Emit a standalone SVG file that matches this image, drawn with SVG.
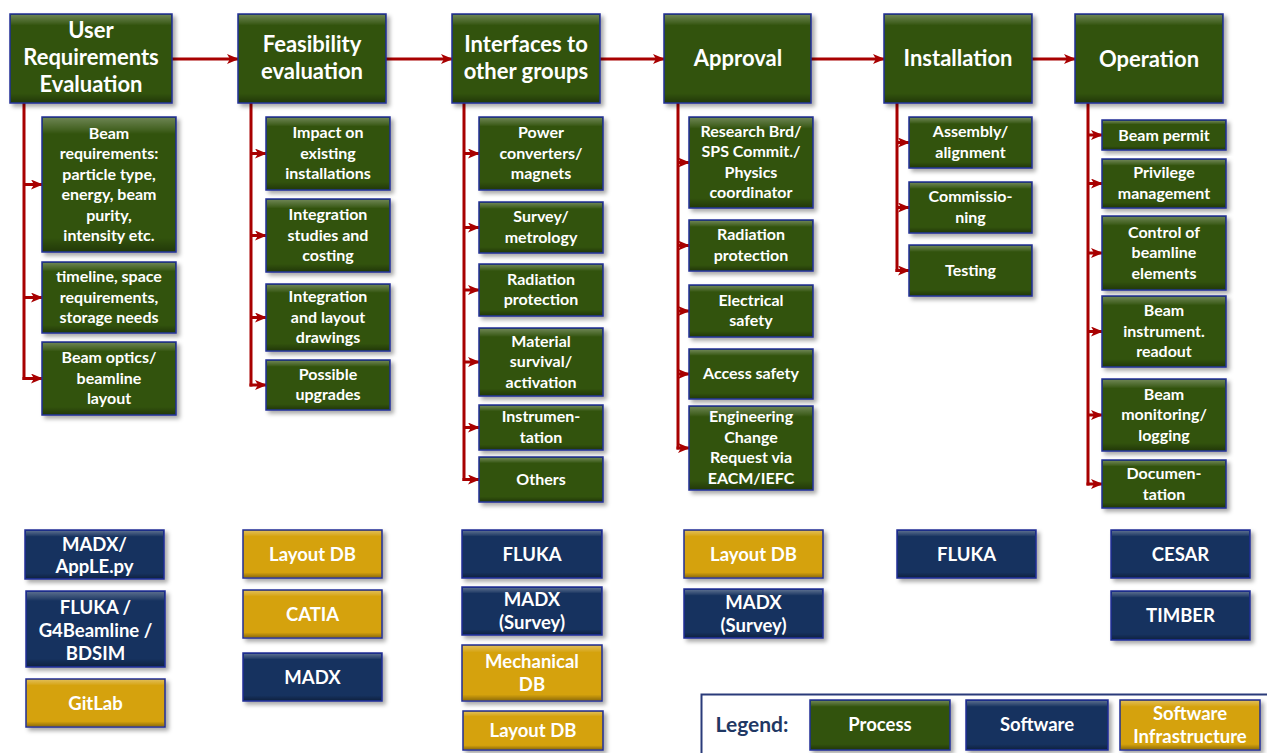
<svg xmlns="http://www.w3.org/2000/svg" width="1267" height="753" viewBox="0 0 1267 753">
<defs>
<style>
.n rect.m{stroke:#1f2f96;stroke-width:1.5;filter:url(#sh)}
.g rect.m{fill:#30520e}
.b rect.m{fill:#12305f}
.y rect.m{fill:#d5a209}
rect.hl{fill:url(#bev);stroke:none}
text{font-family:Lato,"Liberation Sans",sans-serif;font-weight:bold;fill:#ffffff;text-anchor:middle}
.h text{font-size:22px}
.s text{font-size:16px}
.t text{font-size:18.5px}
.c line{stroke:#a80000;stroke-width:3;fill:none}
.ah{fill:#a80000}
</style>
<linearGradient id="bev" x1="0" y1="0" x2="0" y2="1">
<stop offset="0" stop-color="#ffffff" stop-opacity="0.28"/>
<stop offset="0.09" stop-color="#ffffff" stop-opacity="0.08"/>
<stop offset="0.12" stop-color="#ffffff" stop-opacity="0"/>
<stop offset="0.9" stop-color="#000000" stop-opacity="0"/>
<stop offset="1" stop-color="#000000" stop-opacity="0.3"/>
</linearGradient>
<filter id="sh" x="-10%" y="-10%" width="130%" height="130%">
<feDropShadow dx="3" dy="3" stdDeviation="2.2" flood-color="#000" flood-opacity="0.35"/>
</filter>
<marker id="a" markerWidth="12" markerHeight="10" refX="11" refY="5" orient="auto" markerUnits="userSpaceOnUse">
<path class="ah" d="M0,0 L12,5 L0,10 L3,5 Z"/>
</marker>
</defs>
<rect width="1267" height="753" fill="#ffffff"/>

<g id="connectors" class="c">
<line x1="172" y1="59" x2="238" y2="59" marker-end="url(#a)"/>
<line x1="386" y1="59" x2="452" y2="59" marker-end="url(#a)"/>
<line x1="600" y1="59" x2="664" y2="59" marker-end="url(#a)"/>
<line x1="811" y1="59" x2="884" y2="59" marker-end="url(#a)"/>
<line x1="1032" y1="59" x2="1075" y2="59" marker-end="url(#a)"/>

<line x1="24" y1="103" x2="24" y2="380"/>
<line x1="24" y1="184.5" x2="42" y2="184.5" marker-end="url(#a)"/>
<line x1="24" y1="297.5" x2="42" y2="297.5" marker-end="url(#a)"/>
<line x1="22.5" y1="378.5" x2="42" y2="378.5" marker-end="url(#a)"/>

<line x1="251" y1="103" x2="251" y2="386.5"/>
<line x1="251" y1="153.5" x2="266" y2="153.5" marker-end="url(#a)"/>
<line x1="251" y1="235.5" x2="266" y2="235.5" marker-end="url(#a)"/>
<line x1="251" y1="317.5" x2="266" y2="317.5" marker-end="url(#a)"/>
<line x1="249.5" y1="385" x2="266" y2="385" marker-end="url(#a)"/>

<line x1="464" y1="103" x2="464" y2="481"/>
<line x1="464" y1="153.5" x2="479" y2="153.5" marker-end="url(#a)"/>
<line x1="464" y1="227.5" x2="479" y2="227.5" marker-end="url(#a)"/>
<line x1="464" y1="290" x2="479" y2="290" marker-end="url(#a)"/>
<line x1="464" y1="362" x2="479" y2="362" marker-end="url(#a)"/>
<line x1="464" y1="427.5" x2="479" y2="427.5" marker-end="url(#a)"/>
<line x1="462.5" y1="479.5" x2="479" y2="479.5" marker-end="url(#a)"/>

<line x1="678" y1="103" x2="678" y2="449.5"/>
<line x1="678" y1="162.5" x2="689" y2="162.5" marker-end="url(#a)"/>
<line x1="678" y1="245.5" x2="689" y2="245.5" marker-end="url(#a)"/>
<line x1="678" y1="311" x2="689" y2="311" marker-end="url(#a)"/>
<line x1="678" y1="374" x2="689" y2="374" marker-end="url(#a)"/>
<line x1="676.5" y1="448" x2="689" y2="448" marker-end="url(#a)"/>

<line x1="897" y1="103" x2="897" y2="272"/>
<line x1="897" y1="142.5" x2="909" y2="142.5" marker-end="url(#a)"/>
<line x1="897" y1="207.5" x2="909" y2="207.5" marker-end="url(#a)"/>
<line x1="895.5" y1="270.5" x2="909" y2="270.5" marker-end="url(#a)"/>

<line x1="1088" y1="103" x2="1088" y2="485.5"/>
<line x1="1088" y1="135" x2="1102" y2="135" marker-end="url(#a)"/>
<line x1="1088" y1="183.5" x2="1102" y2="183.5" marker-end="url(#a)"/>
<line x1="1088" y1="253" x2="1102" y2="253" marker-end="url(#a)"/>
<line x1="1088" y1="331.5" x2="1102" y2="331.5" marker-end="url(#a)"/>
<line x1="1088" y1="415" x2="1102" y2="415" marker-end="url(#a)"/>
<line x1="1086.5" y1="484" x2="1102" y2="484" marker-end="url(#a)"/>
</g>

<!-- Headers -->
<g id="h1" class="n g h"><rect class="m" x="10" y="14" width="162" height="89"/><rect class="hl" x="11" y="15" width="160" height="87"/><text x="91" y="38">User</text><text x="91" y="65">Requirements</text><text x="91" y="92">Evaluation</text></g>
<g id="h2" class="n g h"><rect class="m" x="238" y="14" width="148" height="89"/><rect class="hl" x="239" y="15" width="146" height="87"/><text x="312" y="52">Feasibility</text><text x="312" y="79">evaluation</text></g>
<g id="h3" class="n g h"><rect class="m" x="452" y="14" width="148" height="89"/><rect class="hl" x="453" y="15" width="146" height="87"/><text x="526" y="52">Interfaces to</text><text x="526" y="79">other groups</text></g>
<g id="h4" class="n g h"><rect class="m" x="664" y="14" width="147" height="89"/><rect class="hl" x="665" y="15" width="145" height="87"/><text x="738" y="66">Approval</text></g>
<g id="h5" class="n g h"><rect class="m" x="884" y="14" width="148" height="89"/><rect class="hl" x="885" y="15" width="146" height="87"/><text x="958" y="66">Installation</text></g>
<g id="h6" class="n g h"><rect class="m" x="1075" y="14" width="148" height="89"/><rect class="hl" x="1076" y="15" width="146" height="87"/><text x="1149" y="67">Operation</text></g>

<!-- Column 1 -->
<g id="c1a" class="n g s"><rect class="m" x="42" y="117" width="134" height="135"/><rect class="hl" x="43" y="118" width="132" height="133"/><text x="109" y="138.5">Beam</text><text x="109" y="159">requirements:</text><text x="109" y="179.5">particle type,</text><text x="109" y="200">energy, beam</text><text x="109" y="220.5">purity,</text><text x="109" y="241">intensity etc.</text></g>
<g id="c1b" class="n g s"><rect class="m" x="42" y="262" width="134" height="71"/><rect class="hl" x="43" y="263" width="132" height="69"/><text x="109" y="282">timeline, space</text><text x="109" y="302.5">requirements,</text><text x="109" y="323">storage needs</text></g>
<g id="c1c" class="n g s"><rect class="m" x="42" y="342" width="134" height="73"/><rect class="hl" x="43" y="343" width="132" height="71"/><text x="109" y="363">Beam optics/</text><text x="109" y="383.5">beamline</text><text x="109" y="404">layout</text></g>

<!-- Column 2 -->
<g id="c2a" class="n g s"><rect class="m" x="266" y="117" width="124" height="73"/><rect class="hl" x="267" y="118" width="122" height="71"/><text x="328" y="138">Impact on</text><text x="328" y="158.5">existing</text><text x="328" y="179">installations</text></g>
<g id="c2b" class="n g s"><rect class="m" x="266" y="199" width="124" height="73"/><rect class="hl" x="267" y="200" width="122" height="71"/><text x="328" y="220">Integration</text><text x="328" y="240.5">studies and</text><text x="328" y="261">costing</text></g>
<g id="c2c" class="n g s"><rect class="m" x="266" y="284" width="124" height="67"/><rect class="hl" x="267" y="285" width="122" height="65"/><text x="328" y="302">Integration</text><text x="328" y="322.5">and layout</text><text x="328" y="343">drawings</text></g>
<g id="c2d" class="n g s"><rect class="m" x="266" y="360" width="124" height="50"/><rect class="hl" x="267" y="361" width="122" height="48"/><text x="328" y="379.5">Possible</text><text x="328" y="400">upgrades</text></g>

<!-- Column 3 -->
<g id="c3a" class="n g s"><rect class="m" x="479" y="117" width="124" height="73"/><rect class="hl" x="480" y="118" width="122" height="71"/><text x="541" y="138">Power</text><text x="541" y="158.5">converters/</text><text x="541" y="179">magnets</text></g>
<g id="c3b" class="n g s"><rect class="m" x="479" y="202" width="124" height="51"/><rect class="hl" x="480" y="203" width="122" height="49"/><text x="541" y="222">Survey/</text><text x="541" y="242.5">metrology</text></g>
<g id="c3c" class="n g s"><rect class="m" x="479" y="264" width="124" height="52"/><rect class="hl" x="480" y="265" width="122" height="50"/><text x="541" y="284.5">Radiation</text><text x="541" y="305">protection</text></g>
<g id="c3d" class="n g s"><rect class="m" x="479" y="328" width="124" height="68"/><rect class="hl" x="480" y="329" width="122" height="66"/><text x="541" y="346.5">Material</text><text x="541" y="367">survival/</text><text x="541" y="387.5">activation</text></g>
<g id="c3e" class="n g s"><rect class="m" x="479" y="405" width="124" height="45"/><rect class="hl" x="480" y="406" width="122" height="43"/><text x="541" y="422">Instrumen-</text><text x="541" y="442.5">tation</text></g>
<g id="c3f" class="n g s"><rect class="m" x="479" y="457" width="124" height="45"/><rect class="hl" x="480" y="458" width="122" height="43"/><text x="541" y="484.5">Others</text></g>

<!-- Column 4 -->
<g id="c4a" class="n g s"><rect class="m" x="689" y="117" width="124" height="91"/><rect class="hl" x="690" y="118" width="122" height="89"/><text x="751" y="136.5">Research Brd/</text><text x="751" y="157">SPS Commit./</text><text x="751" y="177.5">Physics</text><text x="751" y="198">coordinator</text></g>
<g id="c4b" class="n g s"><rect class="m" x="689" y="220" width="124" height="51"/><rect class="hl" x="690" y="221" width="122" height="49"/><text x="751" y="240">Radiation</text><text x="751" y="260.5">protection</text></g>
<g id="c4c" class="n g s"><rect class="m" x="689" y="285" width="124" height="52"/><rect class="hl" x="690" y="286" width="122" height="50"/><text x="751" y="305.5">Electrical</text><text x="751" y="326">safety</text></g>
<g id="c4d" class="n g s"><rect class="m" x="689" y="349" width="124" height="50"/><rect class="hl" x="690" y="350" width="122" height="48"/><text x="751" y="379">Access safety</text></g>
<g id="c4e" class="n g s"><rect class="m" x="689" y="406" width="124" height="84"/><rect class="hl" x="690" y="407" width="122" height="82"/><text x="751" y="422">Engineering</text><text x="751" y="442.5">Change</text><text x="751" y="463">Request via</text><text x="751" y="483.5">EACM/IEFC</text></g>

<!-- Column 5 -->
<g id="c5a" class="n g s"><rect class="m" x="909" y="117" width="123" height="51"/><rect class="hl" x="910" y="118" width="121" height="49"/><text x="970.5" y="137">Assembly/</text><text x="970.5" y="157.5">alignment</text></g>
<g id="c5b" class="n g s"><rect class="m" x="909" y="182" width="123" height="51"/><rect class="hl" x="910" y="183" width="121" height="49"/><text x="970.5" y="202">Commissio-</text><text x="970.5" y="222.5">ning</text></g>
<g id="c5c" class="n g s"><rect class="m" x="909" y="245" width="123" height="51"/><rect class="hl" x="910" y="246" width="121" height="49"/><text x="970.5" y="275.5">Testing</text></g>

<!-- Column 6 -->
<g id="c6a" class="n g s"><rect class="m" x="1102" y="120" width="124" height="30"/><rect class="hl" x="1103" y="121" width="122" height="28"/><text x="1164" y="140.5">Beam permit</text></g>
<g id="c6b" class="n g s"><rect class="m" x="1102" y="159" width="124" height="49"/><rect class="hl" x="1103" y="160" width="122" height="47"/><text x="1164" y="178">Privilege</text><text x="1164" y="198.5">management</text></g>
<g id="c6c" class="n g s"><rect class="m" x="1102" y="216" width="124" height="74"/><rect class="hl" x="1103" y="217" width="122" height="72"/><text x="1164" y="237.5">Control of</text><text x="1164" y="258">beamline</text><text x="1164" y="278.5">elements</text></g>
<g id="c6d" class="n g s"><rect class="m" x="1102" y="296" width="124" height="71"/><rect class="hl" x="1103" y="297" width="122" height="69"/><text x="1164" y="316">Beam</text><text x="1164" y="336.5">instrument.</text><text x="1164" y="357">readout</text></g>
<g id="c6e" class="n g s"><rect class="m" x="1102" y="379" width="124" height="72"/><rect class="hl" x="1103" y="380" width="122" height="70"/><text x="1164" y="399.5">Beam</text><text x="1164" y="420">monitoring/</text><text x="1164" y="440.5">logging</text></g>
<g id="c6f" class="n g s"><rect class="m" x="1102" y="460" width="124" height="48"/><rect class="hl" x="1103" y="461" width="122" height="46"/><text x="1164" y="479">Documen-</text><text x="1164" y="499.5">tation</text></g>

<!-- Tools -->
<g id="t1a" class="n b t"><rect class="m" x="25" y="530" width="139" height="49"/><rect class="hl" x="26" y="531" width="137" height="47"/><text x="94.5" y="551">MADX/</text><text x="94.5" y="573">AppLE.py</text></g>
<g id="t1b" class="n b t"><rect class="m" x="26" y="591" width="139" height="76"/><rect class="hl" x="27" y="592" width="137" height="74"/><text x="95.5" y="614">FLUKA /</text><text x="95.5" y="637">G4Beamline /</text><text x="95.5" y="660">BDSIM</text></g>
<g id="t1c" class="n y t"><rect class="m" x="26" y="679" width="139" height="48"/><rect class="hl" x="27" y="680" width="137" height="46"/><text x="95.5" y="710">GitLab</text></g>

<g id="t2a" class="n y t"><rect class="m" x="243" y="530" width="139" height="48"/><rect class="hl" x="244" y="531" width="137" height="46"/><text x="312.5" y="561">Layout DB</text></g>
<g id="t2b" class="n y t"><rect class="m" x="243" y="590" width="139" height="48"/><rect class="hl" x="244" y="591" width="137" height="46"/><text x="312.5" y="621">CATIA</text></g>
<g id="t2c" class="n b t"><rect class="m" x="243" y="653" width="139" height="48"/><rect class="hl" x="244" y="654" width="137" height="46"/><text x="312.5" y="684">MADX</text></g>

<g id="t3a" class="n b t"><rect class="m" x="462" y="530" width="140" height="48"/><rect class="hl" x="463" y="531" width="138" height="46"/><text x="532" y="561">FLUKA</text></g>
<g id="t3b" class="n b t"><rect class="m" x="462" y="587" width="140" height="48"/><rect class="hl" x="463" y="588" width="138" height="46"/><text x="532" y="606">MADX</text><text x="532" y="629">(Survey)</text></g>
<g id="t3c" class="n y t"><rect class="m" x="462" y="645" width="140" height="56"/><rect class="hl" x="463" y="646" width="138" height="54"/><text x="532" y="668">Mechanical</text><text x="532" y="691">DB</text></g>
<g id="t3d" class="n y t"><rect class="m" x="463" y="711" width="140" height="39"/><rect class="hl" x="464" y="712" width="138" height="37"/><text x="533" y="737">Layout DB</text></g>

<g id="t4a" class="n y t"><rect class="m" x="684" y="530" width="139" height="48"/><rect class="hl" x="685" y="531" width="137" height="46"/><text x="753.5" y="561">Layout DB</text></g>
<g id="t4b" class="n b t"><rect class="m" x="684" y="589" width="139" height="49"/><rect class="hl" x="685" y="590" width="137" height="47"/><text x="753.5" y="609">MADX</text><text x="753.5" y="632">(Survey)</text></g>

<g id="t5a" class="n b t"><rect class="m" x="897" y="530" width="139" height="48"/><rect class="hl" x="898" y="531" width="137" height="46"/><text x="966.5" y="561">FLUKA</text></g>

<g id="t6a" class="n b t"><rect class="m" x="1111" y="530" width="139" height="48"/><rect class="hl" x="1112" y="531" width="137" height="46"/><text x="1180.5" y="561">CESAR</text></g>
<g id="t6b" class="n b t"><rect class="m" x="1111" y="591" width="139" height="49"/><rect class="hl" x="1112" y="592" width="137" height="47"/><text x="1180.5" y="622">TIMBER</text></g>

<!-- Legend -->
<g id="legend">
<rect x="701.5" y="694.5" width="570" height="62" fill="#ffffff" stroke="#2a3b7a" stroke-width="2"/>
<text x="752" y="732" style="font-size:21px;fill:#1f3864">Legend:</text>
<g class="n g t"><rect class="m" x="810" y="700" width="140" height="50"/><rect class="hl" x="811" y="701" width="138" height="48"/><text x="880" y="731">Process</text></g>
<g class="n b t"><rect class="m" x="966" y="700" width="142" height="50"/><rect class="hl" x="967" y="701" width="140" height="48"/><text x="1037" y="731">Software</text></g>
<g class="n y t"><rect class="m" x="1120" y="700" width="140" height="50"/><rect class="hl" x="1121" y="701" width="138" height="48"/><text x="1190" y="720">Software</text><text x="1190" y="743">Infrastructure</text></g>
</g>
</svg>
